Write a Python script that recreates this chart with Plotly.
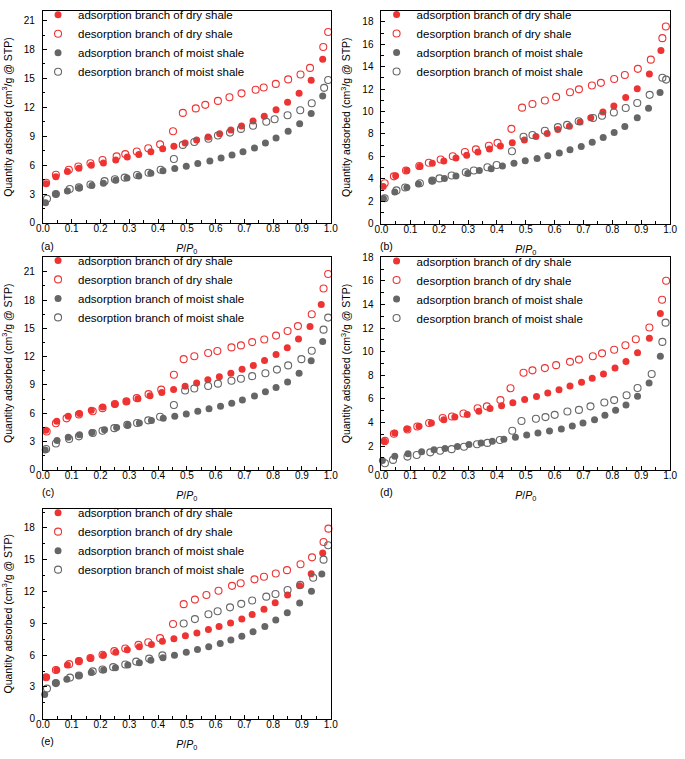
import plotly.graph_objects as go

# ---------------- DATA ----------------
series_names = ["adsorption branch of dry shale", "desorption branch of dry shale",
                "adsorption branch of moist shale", "desorption branch of moist shale"]
panel_labels = ["(a)", "(b)", "(c)", "(d)", "(e)"]
x_ticks = [0.0, 0.1, 0.2, 0.3, 0.4, 0.5, 0.6, 0.7, 0.8, 0.9, 1.0]

# panel (a)
a_ads_dry_p = [0.011,0.045,0.085,0.125,0.168,0.21,0.253,0.293,0.333,0.375,0.416,0.455,0.494,0.534,0.574,0.614,0.653,0.69,0.73,0.769,0.81,0.85,0.89,0.932,0.972]
a_ads_dry_q = [4.07,4.81,5.35,5.69,6.0,6.23,6.54,6.84,7.11,7.38,7.69,7.96,8.30,8.60,8.91,9.25,9.65,10.06,10.57,11.08,11.75,12.53,13.45,14.80,17.0]
a_des_dry_p = [0.011,0.045,0.09,0.123,0.165,0.207,0.256,0.286,0.326,0.366,0.407,0.452,0.486,0.531,0.564,0.608,0.648,0.69,0.739,0.767,0.809,0.852,0.895,0.928,0.974,0.991]
a_des_dry_q = [4.17,5.01,5.52,5.86,6.2,6.54,6.91,7.15,7.42,7.76,8.16,9.52,11.42,11.89,12.26,12.67,13.04,13.45,13.82,14.06,14.43,14.9,15.41,16.09,18.26,19.82]
a_ads_moist_p = [0.009,0.045,0.085,0.127,0.17,0.21,0.253,0.292,0.333,0.375,0.417,0.458,0.498,0.538,0.58,0.619,0.657,0.695,0.735,0.773,0.81,0.852,0.892,0.932,0.972]
a_ads_moist_q = [2.10,3.01,3.32,3.62,3.90,4.13,4.44,4.67,4.88,5.15,5.42,5.66,5.89,6.17,6.44,6.74,7.05,7.38,7.79,8.30,8.81,9.52,10.30,11.35,13.18]
a_des_moist_p = [0.014,0.045,0.093,0.125,0.165,0.214,0.25,0.284,0.327,0.367,0.409,0.455,0.486,0.526,0.575,0.608,0.65,0.688,0.73,0.776,0.805,0.85,0.894,0.934,0.977,0.991]
a_des_moist_q = [2.51,3.01,3.52,3.69,4.0,4.34,4.54,4.71,4.98,5.22,5.52,6.64,8.10,8.40,8.74,9.08,9.38,9.76,10.09,10.5,10.77,11.18,11.69,12.43,14.02,14.84]

# panel (b)
b_ads_dry_p = [0.006,0.049,0.088,0.133,0.176,0.216,0.258,0.295,0.334,0.374,0.412,0.453,0.495,0.535,0.574,0.611,0.651,0.688,0.725,0.767,0.805,0.846,0.886,0.928,0.968]
b_ads_dry_q = [3.31,4.27,4.74,5.09,5.38,5.58,5.86,6.11,6.40,6.66,6.92,7.21,7.47,7.77,8.05,8.40,8.70,9.08,9.45,9.97,10.5,11.26,12.04,13.35,15.45]
b_des_dry_p = [0.011,0.043,0.085,0.131,0.164,0.205,0.247,0.289,0.327,0.372,0.402,0.45,0.487,0.523,0.566,0.605,0.653,0.684,0.729,0.76,0.806,0.843,0.888,0.933,0.973,0.985]
b_des_dry_q = [3.61,4.22,4.74,5.15,5.44,5.73,6.02,6.40,6.63,6.95,7.21,8.46,10.35,10.67,10.99,11.31,11.72,11.98,12.33,12.56,12.91,13.26,13.81,14.63,16.55,17.59]
b_ads_moist_p = [0.007,0.046,0.088,0.128,0.175,0.218,0.258,0.299,0.339,0.38,0.419,0.459,0.498,0.539,0.576,0.616,0.653,0.692,0.730,0.768,0.806,0.843,0.886,0.925,0.965]
b_ads_moist_q = [2.24,2.82,3.23,3.55,3.84,4.04,4.25,4.48,4.74,4.91,5.15,5.38,5.61,5.82,6.05,6.31,6.6,6.89,7.27,7.68,8.14,8.67,9.45,10.30,11.69]
b_des_moist_p = [0.011,0.052,0.082,0.133,0.176,0.201,0.243,0.292,0.32,0.367,0.399,0.452,0.492,0.523,0.566,0.611,0.643,0.683,0.733,0.764,0.805,0.846,0.886,0.929,0.973,0.986]
b_des_moist_q = [2.27,2.97,3.23,3.61,3.84,4.04,4.30,4.59,4.74,5.03,5.23,6.46,7.76,7.91,8.29,8.61,8.81,9.13,9.42,9.63,9.92,10.32,10.76,11.49,13.02,12.85]

# panel (c)
c_ads_dry_p = [0.01,0.048,0.088,0.127,0.168,0.208,0.25,0.29,0.33,0.372,0.413,0.454,0.494,0.534,0.573,0.613,0.653,0.692,0.731,0.77,0.81,0.849,0.888,0.928,0.967]
c_ads_dry_q = [4.2,5.14,5.66,5.97,6.3,6.66,6.95,7.25,7.53,7.84,8.18,8.5,8.85,9.2,9.55,9.86,10.24,10.66,11.07,11.59,12.22,12.95,13.88,15.2,17.53]
c_des_dry_p = [0.013,0.045,0.082,0.125,0.173,0.207,0.25,0.29,0.326,0.367,0.411,0.455,0.489,0.526,0.574,0.606,0.655,0.688,0.727,0.769,0.81,0.85,0.886,0.934,0.975,0.991]
c_des_dry_q = [4.05,4.93,5.45,5.87,6.21,6.53,6.98,7.25,7.6,8.02,8.5,10.07,11.73,12.04,12.39,12.6,12.98,13.19,13.54,13.81,14.23,14.72,15.24,16.49,19.23,20.76]
c_ads_moist_p = [0.008,0.049,0.088,0.127,0.17,0.214,0.256,0.295,0.335,0.377,0.418,0.458,0.498,0.538,0.577,0.617,0.656,0.693,0.735,0.773,0.81,0.85,0.89,0.932,0.972]
c_ads_moist_q = [2.1,3.09,3.44,3.71,3.96,4.23,4.48,4.72,4.96,5.21,5.45,5.66,5.9,6.21,6.46,6.73,7.05,7.39,7.81,8.26,8.71,9.3,10.24,11.56,13.61]
c_des_moist_p = [0.011,0.045,0.091,0.125,0.173,0.207,0.248,0.293,0.327,0.366,0.407,0.455,0.494,0.526,0.574,0.608,0.655,0.688,0.727,0.773,0.813,0.852,0.898,0.934,0.975,0.991]
c_des_moist_q = [2.19,2.78,3.26,3.54,3.89,4.13,4.41,4.76,4.96,5.24,5.62,6.87,8.4,8.61,8.89,9.13,9.44,9.65,9.93,10.24,10.62,11.07,11.73,12.63,14.86,16.14]

# panel (d)
d_ads_dry_p = [0.01,0.046,0.088,0.13,0.173,0.216,0.254,0.297,0.337,0.376,0.416,0.455,0.496,0.537,0.576,0.615,0.653,0.693,0.73,0.769,0.809,0.847,0.887,0.928,0.966]
d_ads_dry_q = [2.4,3.1,3.46,3.68,3.96,4.24,4.46,4.68,4.96,5.18,5.43,5.68,5.95,6.2,6.51,6.78,7.09,7.42,7.75,8.11,8.61,9.17,9.91,11.13,13.24]
d_des_dry_p = [0.012,0.043,0.09,0.124,0.165,0.212,0.244,0.284,0.333,0.365,0.412,0.447,0.492,0.523,0.566,0.605,0.653,0.684,0.732,0.764,0.806,0.845,0.881,0.928,0.972,0.986]
d_des_dry_q = [2.44,3.05,3.41,3.66,3.96,4.38,4.51,4.76,5.21,5.37,5.9,6.9,8.22,8.42,8.61,8.86,9.14,9.33,9.61,9.86,10.16,10.55,11.05,12.05,14.4,16.01]
d_ads_moist_p = [0.003,0.046,0.092,0.139,0.182,0.22,0.263,0.303,0.345,0.384,0.424,0.464,0.503,0.542,0.582,0.623,0.661,0.698,0.738,0.774,0.811,0.847,0.887,0.927,0.966]
d_ads_moist_q = [0.78,1.14,1.36,1.52,1.69,1.8,1.97,2.13,2.27,2.41,2.58,2.74,2.94,3.1,3.27,3.46,3.71,3.96,4.24,4.62,5.04,5.48,6.23,7.34,9.61]
d_des_moist_p = [0.012,0.04,0.09,0.122,0.169,0.203,0.243,0.286,0.331,0.367,0.41,0.453,0.485,0.535,0.568,0.6,0.644,0.684,0.724,0.772,0.806,0.849,0.887,0.936,0.973,0.984]
d_des_moist_q = [0.55,0.83,1.11,1.25,1.47,1.61,1.74,1.94,2.16,2.27,2.52,3.3,4.13,4.32,4.46,4.65,4.93,5.07,5.37,5.7,5.9,6.31,6.92,8.11,10.83,12.46]

# panel (e)
e_ads_dry_p = [0.011,0.048,0.085,0.125,0.165,0.21,0.253,0.293,0.335,0.377,0.415,0.455,0.495,0.535,0.575,0.612,0.652,0.691,0.727,0.768,0.807,0.85,0.892,0.932,0.972]
e_ads_dry_q = [3.91,4.6,5.06,5.46,5.7,5.98,6.26,6.5,6.78,7.0,7.30,7.55,7.83,8.1,8.41,8.69,9.03,9.4,9.83,10.32,10.94,11.67,12.54,13.68,15.63]
e_des_dry_p = [0.011,0.045,0.091,0.125,0.165,0.207,0.248,0.286,0.332,0.366,0.407,0.452,0.489,0.528,0.568,0.61,0.657,0.687,0.735,0.768,0.809,0.848,0.895,0.935,0.975,0.992]
e_des_dry_q = [3.91,4.59,5.15,5.43,5.73,6.04,6.38,6.63,6.97,7.21,7.6,8.94,10.81,11.24,11.67,12.08,12.54,12.78,13.15,13.4,13.71,14.02,14.58,15.23,16.68,17.94]
e_ads_moist_p = [0.006,0.045,0.083,0.125,0.168,0.211,0.252,0.295,0.335,0.375,0.417,0.457,0.498,0.537,0.576,0.616,0.653,0.691,0.73,0.771,0.809,0.849,0.892,0.933,0.969]
e_ads_moist_q = [2.28,3.36,3.73,4.07,4.35,4.59,4.81,5.06,5.27,5.52,5.76,5.98,6.26,6.53,6.78,7.09,7.42,7.79,8.2,8.69,9.31,10.01,10.91,12.04,13.65]
e_des_moist_p = [0.014,0.045,0.094,0.125,0.173,0.207,0.244,0.286,0.324,0.369,0.415,0.489,0.528,0.575,0.607,0.65,0.689,0.727,0.776,0.808,0.85,0.894,0.939,0.975,0.991]
e_des_moist_q = [2.84,3.36,3.88,4.07,4.47,4.65,4.87,5.12,5.39,5.67,5.98,8.99,9.4,9.86,10.14,10.51,10.84,11.15,11.52,11.77,12.14,12.63,13.31,15.01,16.37]

# y-axis setup per panel
y_ranges = [[0, 22.0], [0, 19.0], [0, 22.6], [0, 18.0], [0, 19.8]]
y_dticks = [3, 2, 3, 2, 3]

# ---------------- STYLE / LAYOUT ----------------
W, H = 685, 759
RED = "#EE3333"
GRAY = "#666666"
FONT = "Liberation Sans, Arial, sans-serif"

# pixel boxes (left, right, top, bottom)
boxes = [
    (36.7, 330.5, 2.0, 218.3),
    (382.3, 677.0, 1.7, 219.0),
    (36.7, 330.5, 252.7, 470.0),
    (382.3, 677.0, 253.3, 470.0),
    (36.7, 330.5, 510.0, 724.0),
]

panels = [
    (a_ads_dry_p, a_ads_dry_q, a_des_dry_p, a_des_dry_q, a_ads_moist_p, a_ads_moist_q, a_des_moist_p, a_des_moist_q),
    (b_ads_dry_p, b_ads_dry_q, b_des_dry_p, b_des_dry_q, b_ads_moist_p, b_ads_moist_q, b_des_moist_p, b_des_moist_q),
    (c_ads_dry_p, c_ads_dry_q, c_des_dry_p, c_des_dry_q, c_ads_moist_p, c_ads_moist_q, c_des_moist_p, c_des_moist_q),
    (d_ads_dry_p, d_ads_dry_q, d_des_dry_p, d_des_dry_q, d_ads_moist_p, d_ads_moist_q, d_des_moist_p, d_des_moist_q),
    (e_ads_dry_p, e_ads_dry_q, e_des_dry_p, e_des_dry_q, e_ads_moist_p, e_ads_moist_q, e_des_moist_p, e_des_moist_q),
]

styles = [
    dict(symbol="circle", color=RED, line=dict(width=0)),
    dict(symbol="circle-open", color=RED, line=dict(width=1.1, color=RED)),
    dict(symbol="circle", color=GRAY, line=dict(width=0)),
    dict(symbol="circle-open", color=GRAY, line=dict(width=1.1, color=GRAY)),
]

fig = go.Figure()
layout = dict(
    width=W, height=H,
    margin=dict(l=0, r=0, t=0, b=0),
    paper_bgcolor="white", plot_bgcolor="white",
    font=dict(family=FONT, size=10, color="black"),
    showlegend=True,
)
annotations = []

for i, pdata in enumerate(panels):
    n = i + 1
    xa = "x" if n == 1 else f"x{n}"
    ya = "y" if n == 1 else f"y{n}"
    lg = "legend" if n == 1 else f"legend{n}"
    pairs = [(pdata[0], pdata[1]), (pdata[2], pdata[3]), (pdata[4], pdata[5]), (pdata[6], pdata[7])]
    for k, (px_, qy) in enumerate(pairs):
        st = styles[k]
        fig.add_trace(go.Scatter(
            x=px_, y=qy, mode="markers", name=series_names[k],
            xaxis=xa, yaxis=ya, legend=lg, showlegend=True,
            marker=dict(size=7, symbol=st["symbol"], color=st["color"], line=st["line"]),
            cliponaxis=False,
        ))
    L, R, T, B = boxes[i]
    xdom = [L / W, R / W]
    ydom = [1 - B / H, 1 - T / H]
    xkey = "xaxis" if n == 1 else f"xaxis{n}"
    ykey = "yaxis" if n == 1 else f"yaxis{n}"
    layout[xkey] = dict(
        domain=xdom, anchor=ya, range=[0, 1.0], tickvals=x_ticks, tickformat=".1f",
        showline=True, linecolor="black", linewidth=1, mirror=True,
        ticks="inside", ticklen=4, tickcolor="black", tickwidth=1,
        minor=dict(dtick=0.05, ticks="inside", ticklen=2.5, tickcolor="black", tickwidth=1),
        showgrid=False, zeroline=False, tickfont=dict(size=10),
        title=dict(text="<i>P</i>/<i>P</i><sub>0</sub>", font=dict(size=10.5), standoff=11),
        ticklabelstandoff=-4,
    )
    layout[ykey] = dict(
        domain=ydom, anchor=xa, range=y_ranges[i], dtick=y_dticks[i], tick0=0,
        showline=True, linecolor="black", linewidth=1, mirror=True,
        ticks="inside", ticklen=4, tickcolor="black", tickwidth=1,
        minor=dict(dtick=y_dticks[i] / 2, ticks="inside", ticklen=2.5, tickcolor="black", tickwidth=1),
        showgrid=False, zeroline=False, tickfont=dict(size=10),
        title=dict(text="Quantity adsorbed (cm<sup>3</sup>/g @ STP)", font=dict(size=10.5), standoff=9),
        ticklabelstandoff=5,
    )
    layout[lg] = dict(
        x=(L - 5) / W, y=1 - (T - 11) / H, xanchor="left", yanchor="top",
        bgcolor="rgba(0,0,0,0)", borderwidth=0, font=dict(size=11.5, family=FONT),
        itemwidth=30, tracegroupgap=0,
    )
    annotations.append(dict(
        text=panel_labels[i], x=(L + 5) / W, y=1 - (B + 23) / H,
        xref="paper", yref="paper", showarrow=False, xanchor="center", yanchor="middle",
        font=dict(size=10.5),
    ))

layout["annotations"] = annotations
fig.update_layout(**layout)
fig.write_html(
    "out.html",
    config={"displayModeBar": False},
    post_script="document.body.style.margin='0';document.body.style.overflow='hidden';",
)
